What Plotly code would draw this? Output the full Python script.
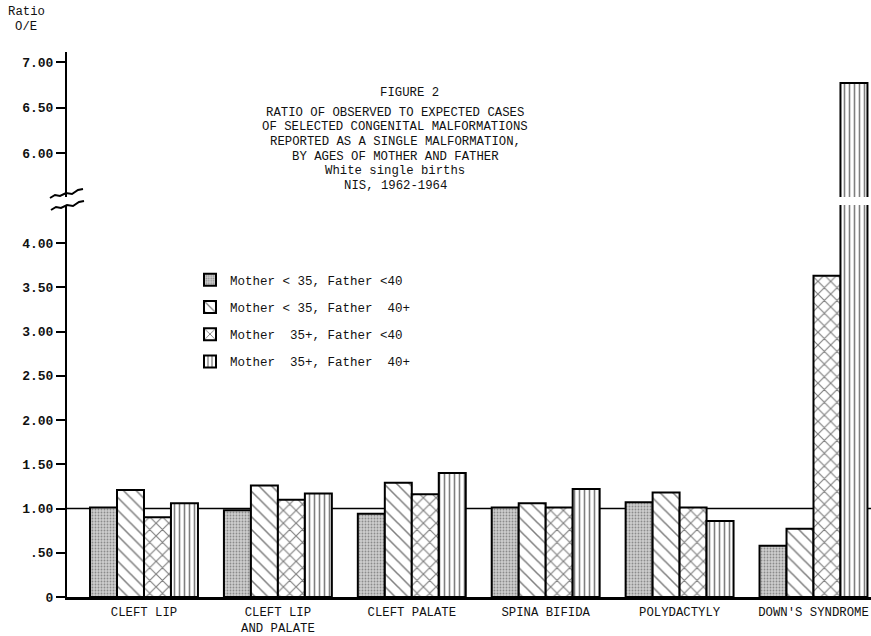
import plotly.graph_objects as go

# ---------------- data ----------------
categories = ["CLEFT LIP", "CLEFT LIP<br>AND PALATE", "CLEFT PALATE",
              "SPINA BIFIDA", "POLYDACTYLY", "DOWN'S SYNDROME"]
series_names = ["Mother < 35, Father <40", "Mother < 35, Father  40+",
                "Mother  35+, Father <40", "Mother  35+, Father  40+"]
m_lt35_f_lt40 = [1.01, 0.98, 0.94, 1.01, 1.07, 0.58]
m_lt35_f_40p = [1.21, 1.26, 1.29, 1.06, 1.18, 0.77]
m_35p_f_lt40 = [0.90, 1.10, 1.16, 1.01, 1.01, 3.63]
m_35p_f_40p = [1.06, 1.17, 1.40, 1.22, 0.86, 6.77]
series_values = [m_lt35_f_lt40, m_lt35_f_40p, m_35p_f_lt40, m_35p_f_40p]

lower_ticks = [0, 0.5, 1.0, 1.5, 2.0, 2.5, 3.0, 3.5, 4.0]
lower_ticktext = ["0", ".50", "1.00", "1.50", "2.00", "2.50", "3.00", "3.50", "4.00"]
upper_ticks = [6.0, 6.5, 7.0]
upper_ticktext = ["6.00", "6.50", "7.00"]
expected_ratio = 1.0

title_lines = ["RATIO OF OBSERVED TO EXPECTED CASES",
               "OF SELECTED CONGENITAL MALFORMATIONS",
               "REPORTED AS A SINGLE MALFORMATION,",
               "BY AGES OF MOTHER AND FATHER",
               "White single births",
               "NIS, 1962-1964"]

# ---------------- styling ----------------
FONT = "Liberation Mono, Courier New, monospace"
W, H = 871, 636
L, R, T, B = 67, 0, 52, 39
PW, PH = W - L - R, H - T - B


def px(x):
    return (x - L) / PW


def py(y):
    return (H - B - y) / PH


patterns = [
    dict(shape=".", fgcolor="#4a4a4a", bgcolor="#cdcdcd", size=3, solidity=0.3),
    dict(shape="\\", fgcolor="black", bgcolor="white", size=9, solidity=0.17),
    dict(shape="x", fgcolor="black", bgcolor="white", size=9, solidity=0.24),
    dict(shape="|", fgcolor="black", bgcolor="white", size=5, solidity=0.32),
]

fig = go.Figure()
xidx = list(range(len(categories)))
for i, (name, vals) in enumerate(zip(series_names, series_values)):
    for yax, show in (("y", True), ("y2", False)):
        fig.add_trace(go.Bar(
            x=xidx, y=vals, name=name, xaxis="x", yaxis=yax,
            showlegend=show, legendgroup=f"g{i}",
            marker=dict(color="white", line=dict(color="black", width=2),
                        pattern=patterns[i]),
            hoverinfo="skip",
        ))

lower_top = 205
upper_bottom = 197
ppu_low = 88.5
ppu_up = 91.0
y0px = H - B
lower_range = [0, (y0px - lower_top) / ppu_low]
upper_range = [6.0 - (upper_bottom - 153) / ppu_up, 7.0 + (62 - T) / ppu_up]

axis_common = dict(showgrid=False, zeroline=False, showline=True, linecolor="black",
                   linewidth=2, ticks="outside", ticklen=9, tickwidth=2,
                   tickcolor="black", automargin=False,
                   tickfont=dict(family=FONT, size=13, color="#111", weight="bold"))

fig.update_layout(
    width=W, height=H,
    margin=dict(l=L, r=R, t=T, b=B, autoexpand=False),
    paper_bgcolor="white", plot_bgcolor="rgba(0,0,0,0)",
    barmode="group", bargap=0.194, bargroupgap=0,
    xaxis=dict(range=[-0.575, -0.575 + PW / 133.9], tickvals=xidx, ticktext=categories,
               showgrid=False, zeroline=False, showline=True, linecolor="black",
               linewidth=3, ticks="", ticklabelstandoff=1, anchor="y", automargin=False,
               tickfont=dict(family=FONT, size=12.3, color="#111")),
    yaxis=dict(domain=[0, py(lower_top)], range=lower_range, tickvals=lower_ticks,
               ticktext=lower_ticktext, anchor="x", **axis_common),
    yaxis2=dict(domain=[py(upper_bottom), 1], range=upper_range, tickvals=upper_ticks,
                ticktext=upper_ticktext, anchor="x", **axis_common),
    legend=dict(x=px(190), y=py(265), xanchor="left", yanchor="top",
                bgcolor="rgba(0,0,0,0)", traceorder="grouped", tracegroupgap=8,
                font=dict(family=FONT, size=12.5, color="#111")),
    showlegend=True,
)

# expected ratio reference line
fig.add_shape(type="line", xref="paper", yref="y", x0=0, x1=1,
              y0=expected_ratio, y1=expected_ratio,
              line=dict(color="black", width=1.5), layer="below")


# axis break squiggles
def squiggle(points):
    return "M " + " L ".join(f"{px(x):.5f},{py(y):.5f}" for x, y in points)


sq1 = [(50, 198), (55, 195), (60, 196), (66, 193), (72, 194), (78, 190), (83, 189)]
sq2 = [(x + 1, y + 12) for x, y in sq1]
for pts in (sq1, sq2):
    fig.add_shape(type="path", xref="paper", yref="paper", path=squiggle(pts),
                  line=dict(color="black", width=2))

annos = []
annos.append(dict(text="Ratio", x=px(26), y=py(12)))
annos.append(dict(text="O/E", x=px(26), y=py(27)))
annos.append(dict(text="FIGURE 2", x=px(409), y=py(93)))
line_ys = [113, 127, 142, 157, 171, 186]
for txt, yy in zip(title_lines, line_ys):
    annos.append(dict(text=txt, x=px(395), y=py(yy)))
for a in annos:
    fig.add_annotation(xref="paper", yref="paper", showarrow=False,
                       xanchor="center", yanchor="middle",
                       font=dict(family=FONT, size=12.3, color="#111"), **a)

fig.write_html("out.html", config={"displayModeBar": False},
               post_script="document.body.style.margin='0';document.body.style.padding='0';")
